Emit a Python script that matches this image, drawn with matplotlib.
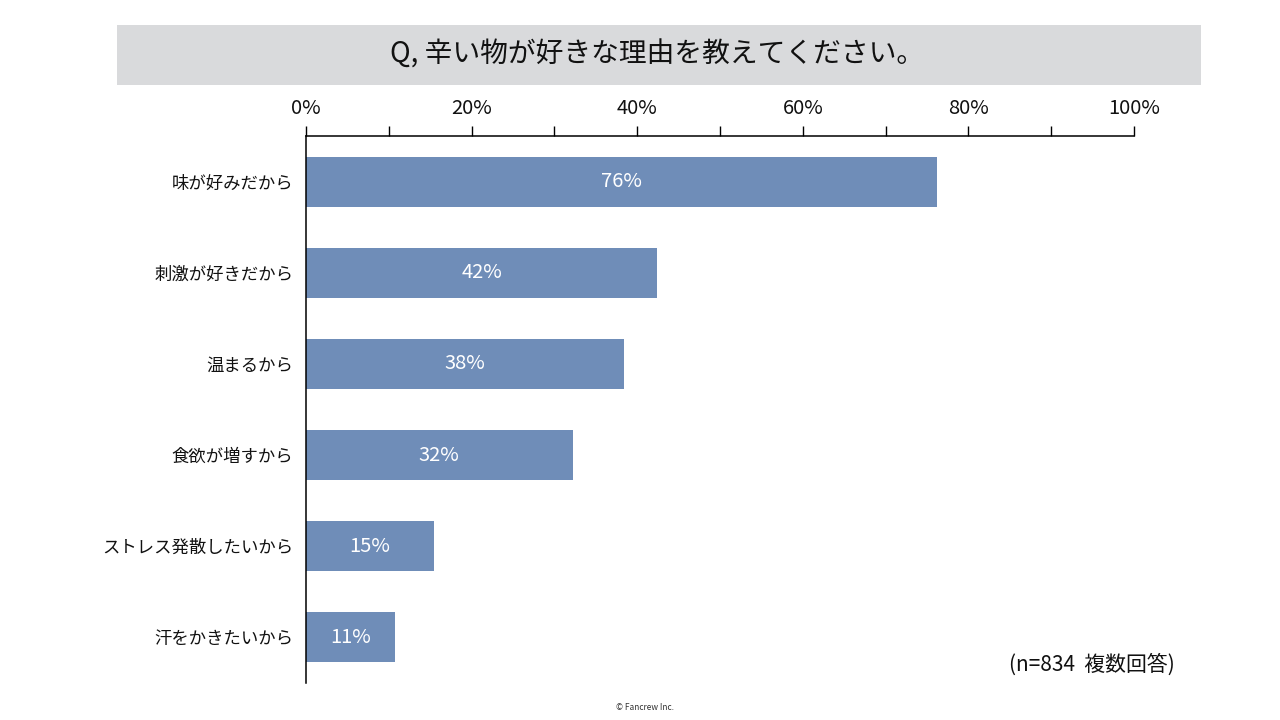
import matplotlib.pyplot as plt
from matplotlib.patches import Rectangle

plt.rcParams['font.family'] = ['Noto Sans CJK JP', 'DejaVu Sans']

# data
title = 'Q, 辛い物が好きな理由を教えてください。'
reasons = ['味が好みだから', '刺激が好きだから', '温まるから', '食欲が増すから',
           'ストレス発散したいから', '汗をかきたいから']
shares = [76.2, 42.4, 38.4, 32.2, 15.4, 10.7]
note = '(n=834  複数回答)'
credit = '© Fancrew Inc.'

bar_color = '#6F8DB8'

fig = plt.figure(figsize=(12.8, 7.2), dpi=100)

# title band
fig.patches.append(Rectangle((117 / 1280, 1 - 85 / 720), (1201 - 117) / 1280, 60 / 720,
                             transform=fig.transFigure, facecolor='#D9DADC',
                             edgecolor='none', zorder=0))
fig.text(657 / 1280, 1 - 55 / 720, title, ha='center', va='center', fontsize=20,
         color='#111111')

ax = fig.add_axes([306 / 1280, 1 - 683 / 720, (1134 - 306) / 1280, (683 - 136) / 720])
pos = list(range(len(reasons)))
bars = ax.barh(pos, shares, height=0.55, color=bar_color, zorder=2)
for b, v in zip(bars, shares):
    ax.text(v / 2, b.get_y() + b.get_height() / 2, f'{round(v)}%', ha='center',
            va='center', color='white', fontsize=14.5)

ax.set_xlim(0, 100)
ax.set_ylim(len(reasons) - 0.5, -0.5)
ax.set_yticks(pos)
ax.set_yticklabels(reasons, fontsize=12.5, color='#111111')
ax.tick_params(axis='y', length=0, pad=9)

ax.xaxis.tick_top()
ax.set_xticks(range(0, 101, 20))
ax.set_xticklabels([f'{t}%' for t in range(0, 101, 20)], fontsize=14.5, color='#111111')
ax.set_xticks(range(10, 100, 20), minor=True)
ax.tick_params(axis='x', which='both', direction='out', length=7, width=1, pad=5,
               color='black')

for s in ['right', 'bottom']:
    ax.spines[s].set_visible(False)
ax.spines['top'].set_linewidth(1.1)
ax.spines['left'].set_linewidth(1.1)

fig.text(1175 / 1280, 1 - 665 / 720, note, ha='right', va='center', fontsize=15,
         color='#111111')
fig.text(645 / 1280, 1 - 708 / 720, credit, ha='center', va='center', fontsize=6,
         color='#333333')

fig.savefig('out.png', dpi=100)
